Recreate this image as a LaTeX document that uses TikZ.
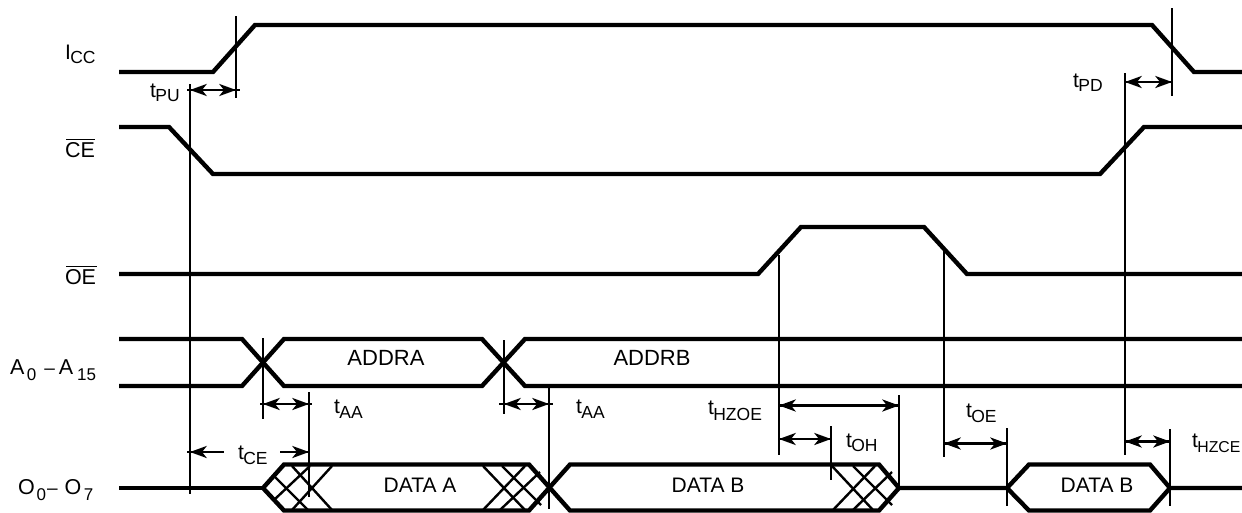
\documentclass[tikz,border=0pt]{standalone}
\usepackage{fontspec}
\setmainfont{Liberation Sans}
\newcommand{\tsub}[3][5]{\fontsize{21}{22}\selectfont #2\kern-0.5pt\raisebox{-#1pt}{\fontsize{17.5}{18}\selectfont #3}}
\newcommand{\bigtxt}{\fontsize{21.5}{23}\selectfont}
\newcommand{\smalltxt}{\fontsize{17}{18}\selectfont}
% concave arrow heads with the tip at (x,y)
\newcommand{\headL}[2]{\fill[black] (#1,#2) -- ++(17,-6.2) -- ++(-5,6.2) -- ++(5,6.2) -- cycle;}
\newcommand{\headR}[2]{\fill[black] (#1,#2) -- ++(-17,-6.2) -- ++(5,6.2) -- ++(-5,6.2) -- cycle;}
\newcommand{\dimline}[3]{\draw[dimstroke] (#1,#3) -- (#2,#3); \headL{#1}{#3} \headR{#2}{#3}}
\tikzset{
 x=1pt,y=-1pt,
 signal/.style={line width=4.4pt,line join=miter,black},
 vline/.style={line width=2.8pt,black},
 hatch/.style={line width=2.4pt,black},
 dimstroke/.style={line width=2.3pt,black},
 barline/.style={line width=1.6pt,black},
 lbl/.style={anchor=base west,inner sep=0pt,outer sep=0pt,text=black},
 ctr/.style={anchor=base,inner sep=0pt,outer sep=0pt,text=black},
}
\begin{document}
\begin{tikzpicture}
\useasboundingbox (0,0) rectangle (1242,512);
\clip (0,0) rectangle (1242,512);
% signals
\draw[signal] (119,72) -- (213,72) -- (255,25) -- (1152,25) -- (1194,72) -- (1242,72);
\draw[signal] (119,127) -- (169,127) -- (213,174) -- (1100,174) -- (1144,127) -- (1242,127);
\draw[signal] (119,274) -- (758,274) -- (801,227) -- (924,227) -- (967,274) -- (1242,274);
\draw[signal] (119,339) -- (242,339) -- (284,386) -- (482,386) -- (525,339) -- (1242,339);
\draw[signal] (119,386) -- (242,386) -- (284,339) -- (482,339) -- (525,386) -- (1242,386);
% data bus
\draw[signal] (119,488) -- (263,488);
\draw[signal] (263,488) -- (284,464.5) -- (529,464.5) -- (570,510.5) -- (879,510.5) -- (899,488);
\draw[signal] (263,488) -- (284,510.5) -- (529,510.5) -- (570,464.5) -- (879,464.5) -- (899,488);
\draw[signal] (899,488) -- (1007,488) -- (1029,464.5) -- (1150,464.5) -- (1170,488) -- (1242,488);
\draw[signal] (1007,488) -- (1029,510.5) -- (1150,510.5) -- (1170,488);
% hatching
\draw[hatch] (273,475) -- (308,510);
\draw[hatch] (292,466) -- (332,510);
\draw[hatch] (275,499) -- (310,466);
\draw[hatch] (292,510) -- (332,466);
\draw[hatch] (483,466) -- (525,510);
\draw[hatch] (502,466) -- (541,505);
\draw[hatch] (483,510) -- (525,466);
\draw[hatch] (500,510) -- (540,472);
\draw[hatch] (832,466) -- (873,510);
\draw[hatch] (853,466) -- (892,505);
\draw[hatch] (833,510) -- (875,466);
\draw[hatch] (853,510) -- (892,472);
% vertical reference lines
\draw[vline] (190,84) -- (190,494);
\draw[vline] (236,16) -- (236,98);
\draw[vline] (263,338) -- (263,419);
\draw[vline] (309,392) -- (309,497);
\draw[vline] (504,340) -- (504,414);
\draw[vline] (549,388) -- (549,509);
\draw[vline] (779,255) -- (779,455);
\draw[vline] (831,426) -- (831,480);
\draw[vline] (899,395) -- (899,490);
\draw[vline] (944,250) -- (944,457);
\draw[vline] (1007,428) -- (1007,506);
\draw[vline] (1125,73) -- (1125,455);
\draw[vline] (1170,429) -- (1170,506);
\draw[vline] (1172,8) -- (1172,96);
% dimension arrows
\dimline{190}{236}{90}
\draw[dimstroke] (187,90) -- (240,90);
\dimline{263}{309}{404}
\draw[dimstroke] (260,404) -- (312,404);
\dimline{504}{549}{404}
\draw[dimstroke] (499,404) -- (553,404);
\draw[dimstroke] (187,452) -- (224,452); \headL{190}{452}
\draw[dimstroke] (280,452) -- (309,452); \headR{309}{452}
\dimline{779}{899}{405.5}
\dimline{779}{831}{439}
\dimline{944}{1007}{443.5}
\dimline{1125}{1170}{441.5}
\dimline{1125}{1172}{82}
% signal names
\node[lbl] (icc) at (65,59) {\tsub[4]{I}{CC}};
\node[lbl] (ce) at (65,157) {\bigtxt CE};
\draw[barline] (66,139.5) -- (95,139.5);
\node[lbl] (oe) at (65,284) {\bigtxt OE};
\draw[barline] (66,266.5) -- (97,266.5);
\node[lbl] (addr) at (10,374) {\bigtxt A\kern2.5pt\raisebox{-6pt}{\smalltxt 0}\kern8pt{\fontsize{19}{20}\selectfont\char"2013}\kern4pt A\kern4pt\raisebox{-6pt}{\smalltxt 15}};
\node[lbl] (dout) at (18,494) {\bigtxt O\kern2pt\raisebox{-6pt}{\smalltxt 0}\kern1pt{\fontsize{19}{20}\selectfont\char"2013}\kern7pt O\kern2.5pt\raisebox{-6pt}{\smalltxt 7}};
% bus contents
\node[ctr,font=\fontsize{22}{24}\selectfont] (addra) at (386,365) {ADDRA};
\node[ctr,font=\fontsize{22}{24}\selectfont] (addrb) at (652,365) {ADDRB};
\node[ctr,font=\fontsize{21}{23}\selectfont] (dataa) at (420,492) {DATA A};
\node[ctr,font=\fontsize{21}{23}\selectfont] (datab) at (708,492) {DATA B};
\node[ctr,font=\fontsize{21}{23}\selectfont] (datab2) at (1097,492) {DATA B};
% timing labels
\node[lbl] (tpu) at (150,97) {\tsub[4]{t}{PU}};
\node[lbl] (tpd) at (1073,87) {\tsub[4]{t}{PD}};
\node[lbl] (taa1) at (334,413) {\tsub{t}{AA}};
\node[lbl] (taa2) at (576,413) {\tsub{t}{AA}};
\node[lbl] (tce) at (238,459) {\tsub{t}{CE}};
\node[lbl] (thzoe) at (708,414) {\tsub[6]{t}{HZOE}};
\node[lbl] (toe) at (966,417) {\tsub{t}{OE}};
\node[lbl] (toh) at (846,447) {\tsub[4]{t}{OH}};
\node[lbl] (thzce) at (1192,447) {\fontsize{21}{22}\selectfont t\kern-0.5pt\raisebox{-5pt}{\fontsize{15.8}{17}\selectfont HZCE}};
\end{tikzpicture}
\end{document}
